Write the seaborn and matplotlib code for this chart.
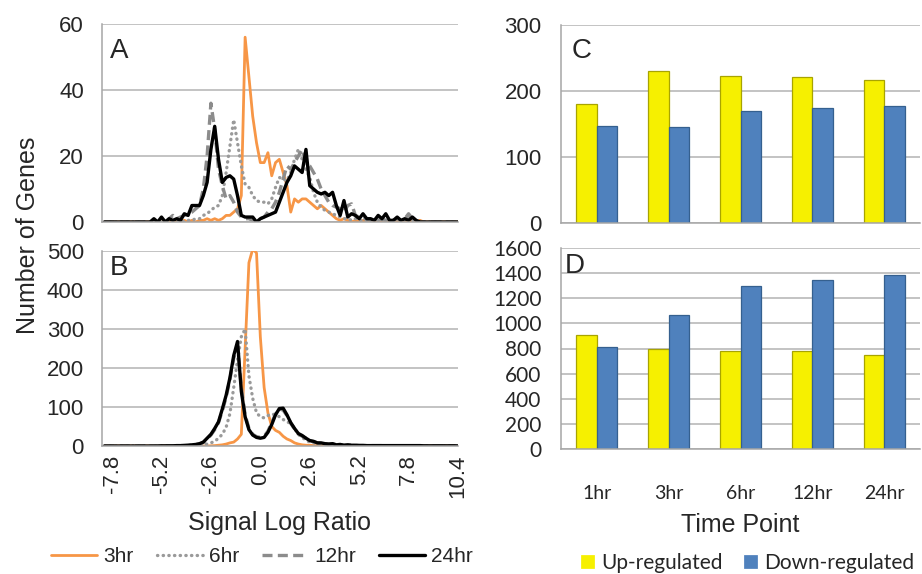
"""
Gene expression figure: signal log ratio histograms (A, B) and
up/down regulated gene counts per time point (C, D).
"""

import matplotlib
matplotlib.use('Agg')
import matplotlib.pyplot as plt
import seaborn as sns
import pandas as pd
import numpy as np

# ---- data -------------------------------------------------------------
# signal log ratio bins, step 0.2 (-8.2 ... 10.4)
LOG_RATIO = np.round(np.arange(-8.2, 10.41, 0.2), 1)
XTICKS = [-7.8, -5.2, -2.6, 0.0, 2.6, 5.2, 7.8, 10.4]
SERIES = ['3hr', '6hr', '12hr', '24hr']

# panel A (rows of ten bins: -8.2, -6.2, -4.2, -2.2, -0.2, 1.8, 3.8, 5.8, 7.8, 9.8)
A_3HR = [0, 0, 0, 0, 0, 0, 0, 0, 0, 0,
         0, 0, 0, 0, 0, 0, 0, 0, 0.5, 0,
         0, 0.5, 0, 0.5, 0, 0.5, 0.5, 1, 0.5, 1,
         0.5, 1, 2, 2, 3, 4, 8, 56, 44, 32,
         24, 18, 18, 21, 14, 18, 19, 15, 11, 3,
         7, 6, 7, 7, 6, 5, 4, 5, 4, 3,
         2, 1, 0.5, 1, 0.5, 0, 0.5, 0, 0.5, 0,
         0, 0.5, 0, 0.5, 0, 0.5, 0, 0.5, 0, 0.5,
         0, 0.5, 0, 0.5, 0, 0, 0, 0, 0, 0,
         0, 0, 0, 0]
A_6HR = [0, 0, 0, 0, 0, 0, 0, 0, 0, 0,
         0, 0, 0, 0, 0, 0, 0, 0, 0, 0,
         0.5, 0, 0.5, 0.5, 1, 1, 2, 2.5, 3.5, 4.5,
         5, 8, 15, 23, 31, 24, 17, 11.5, 10.5, 8,
         6.5, 6, 6, 5.5, 7, 10.5, 13.5, 13, 12.5, 15,
         19, 22, 19, 16, 13.5, 9, 6, 4.5, 3.5, 3,
         2.5, 2, 1.5, 1, 1, 0.5, 1, 0.5, 0.5, 0.5,
         0.5, 1, 0.5, 0.5, 1, 0.5, 0.5, 0.5, 1, 0.5,
         1.5, 0.5, 0, 0, 0, 0, 0, 0, 0, 0,
         0, 0, 0, 0]
A_12HR = [0, 0, 0, 0, 0, 0, 0, 0, 0, 0,
          0, 0, 0, 0, 0, 0, 0, 1, 2, 1,
          1.5, 2, 2.5, 3, 4, 5, 10, 20, 36, 28,
          16, 11, 7, 8, 6, 3, 1.5, 1, 1, 0.5,
          1, 1, 1.5, 3, 4, 6, 9, 13, 17, 16,
          18, 20, 22, 18, 17, 15, 13, 10, 8, 6,
          5, 4.5, 4, 3, 5, 5.5, 2, 1.5, 1, 1,
          0.5, 1, 0.5, 1, 0.5, 0.5, 0.5, 1, 0.5, 1,
          2.5, 1, 0, 0, 0, 0, 0, 0, 0, 0,
          0, 0, 0, 0]
A_24HR = [0, 0, 0, 0, 0, 0, 0, 0, 0, 0,
          0, 0, 0, 1, 0, 1.5, 0, 1, 0.5, 1,
          0.5, 2.5, 2, 5, 5, 5, 8, 12, 22, 29,
          19, 12, 13.5, 14, 13, 8, 2, 1.5, 1.5, 1.5,
          0, 1, 1.5, 2, 2.5, 3, 6, 9, 12, 14,
          17, 16, 15, 22, 11, 10, 9, 8.5, 9, 8,
          9, 5, 2, 6.5, 1.5, 2.5, 2, 1, 2.5, 1,
          1, 0.5, 2, 1, 2.5, 0.5, 0.5, 1.5, 0.5, 1,
          0.5, 1.5, 0.5, 0, 0, 0, 0, 0, 0, 0,
          0, 0, 0, 0]

# panel B
B_3HR = [0, 0, 0, 0, 0, 0, 0, 0, 0, 0,
         0, 0, 0, 0, 0, 0, 0, 0, 0, 0,
         0, 0, 0, 0, 0, 0, 0, 0, 0.5, 1,
         2, 3, 5, 8, 10, 18, 30, 250, 470, 505,
         495, 280, 150, 85, 50, 40, 35, 25, 18, 14,
         8, 5, 3, 2, 2, 1, 1, 1, 0.5, 0.5,
         0.5, 0.5, 0, 0, 0, 0, 0, 0, 0, 0,
         0, 0, 0, 0, 0, 0, 0, 0, 0, 0,
         0, 0, 0, 0, 0, 0, 0, 0, 0, 0,
         0, 0, 0, 0]
B_6HR = [0, 0, 0, 0, 0, 0, 0, 0, 0, 0,
         0, 0, 0, 0, 0, 0, 0, 0, 0, 0.5,
         0.5, 1, 1, 1.5, 2, 2.5, 3, 5, 8, 12,
         20, 30, 48, 83, 150, 220, 280, 300, 180, 122,
         85, 75, 72, 78, 82, 80, 75, 68, 62, 58,
         45, 30, 22, 15, 10, 8, 6, 5, 4, 3,
         3, 2, 2, 1.5, 1.5, 1, 1, 1, 0.5, 0.5,
         0.5, 0.5, 0.5, 0.5, 0.5, 0.5, 0.5, 0.5, 0.5, 0.5,
         0.5, 0.5, 0, 0, 0, 0, 0, 0, 0, 0,
         0, 0, 0, 0]
B_12HR = [0, 0, 0, 0, 0, 0, 0, 0, 0, 0,
          0, 0, 0, 0, 0, 0, 0, 0.5, 0.5, 0.5,
          1, 1, 1.5, 2.5, 3.5, 5, 9, 18, 28, 42,
          60, 90, 125, 170, 225, 255, 150, 80, 45, 30,
          24, 22, 25, 38, 60, 82, 95, 92, 78, 58,
          44, 31, 25, 20, 13, 11, 8, 7, 6, 5,
          5, 3, 3, 2, 2.5, 2, 1.5, 1, 1, 1,
          1, 1, 1, 1, 0.5, 0.5, 0.5, 0.5, 0.5, 0.5,
          0.5, 0.5, 0.5, 0.5, 0, 0, 0, 0, 0, 0,
          0, 0, 0, 0]
B_24HR = [0, 0, 0, 0, 0, 0, 0, 0, 0, 0,
          0, 0, 0, 0, 0, 0.5, 0.5, 0.5, 0.5, 1,
          1, 1.5, 2, 3, 4, 6, 10, 20, 30, 45,
          62, 95, 130, 175, 232, 268, 140, 75, 42, 28,
          22, 20, 22, 35, 55, 80, 96, 97, 80, 60,
          45, 32, 27, 20, 14, 12, 8, 8, 6, 5,
          6, 3, 4, 2, 3, 2, 2, 1.5, 1.5, 1,
          1, 1, 1, 1, 1, 1, 1, 1, 1, 1,
          1, 1, 1, 1, 0.5, 0.5, 0.5, 0.5, 0.5, 0.5,
          0.5, 0.5, 0.5, 0]

# panels C and D
TIME_POINTS = ['1hr', '3hr', '6hr', '12hr', '24hr']
REGULATION = ['Up-regulated', 'Down-regulated']
C_UP = [180, 230, 223, 221, 217]
C_DOWN = [147, 145, 169, 174, 178]
D_UP = [910, 796, 782, 782, 750]
D_DOWN = [809, 1066, 1300, 1347, 1382]

# ---- styling ----------------------------------------------------------
LINE_STYLE = {
    '3hr': dict(color='#F79646', lw=2.0, dashes=None),
    '6hr': dict(color='#9A9A9A', lw=2.4, dashes=(0.1, 1.6)),
    '12hr': dict(color='#8C8C8C', lw=2.4, dashes=(3.0, 1.6)),
    '24hr': dict(color='#000000', lw=2.4, dashes=None),
}
YELLOW, YELLOW_EDGE = '#F6F000', '#A8A400'
BLUE, BLUE_EDGE = '#4F81BD', '#35608F'
GRID = '#B3B3B3'
SPINE = '#A6A6A6'

sns.set_style('white')
plt.rcParams['font.family'] = ['Liberation Sans', 'DejaVu Sans']

W, H = 922, 574
fig = plt.figure(figsize=(W / 100, H / 100), dpi=100)


def px_axes(left, top, right, bottom):
    return fig.add_axes([left / W, 1 - bottom / H, (right - left) / W, (bottom - top) / H])


def style_axes(ax, ymax, ystep):
    ax.set_ylim(0, ymax)
    ax.set_yticks(np.arange(0, ymax + 1, ystep))
    ax.yaxis.grid(True, color=GRID, lw=1.1)
    ax.set_axisbelow(True)
    for side in ['top', 'right']:
        ax.spines[side].set_visible(False)
    for side in ['left', 'bottom']:
        ax.spines[side].set_color(SPINE)
        ax.spines[side].set_linewidth(1.1)
    ax.tick_params(length=0)
    ax.set_xlabel('')
    ax.set_ylabel('')


def draw_histogram(ax, series_values, ymax, ystep, letter, letter_y):
    for name, vals in zip(SERIES, series_values):
        st = LINE_STYLE[name]
        sns.lineplot(x=LOG_RATIO, y=vals, ax=ax, color=st['color'], lw=st['lw'], label=name)
        line = ax.lines[-1]
        if st['dashes'] is not None:
            line.set_dashes(st['dashes'])
            line.set_dash_capstyle('round' if name == '6hr' else 'butt')
    if ax.get_legend() is not None:
        ax.get_legend().remove()
    style_axes(ax, ymax, ystep)
    ax.set_xlim(-8.33, 10.4)
    ax.set_xticks(XTICKS)
    ax.tick_params(axis='y', labelsize=16, pad=13)
    ax.text(0.022, letter_y, letter, transform=ax.transAxes, fontsize=20, va='baseline')


def draw_bars(ax, up, down, ymax, ystep, letter, letter_x, letter_y):
    df = pd.DataFrame({
        'time': TIME_POINTS * 2,
        'count': up + down,
        'reg': [REGULATION[0]] * len(up) + [REGULATION[1]] * len(down),
    })
    sns.barplot(data=df, x='time', y='count', hue='reg', palette=[YELLOW, BLUE],
                saturation=1, width=0.57, gap=0, ax=ax, linewidth=0.9)
    for container, ec in zip(ax.containers, [YELLOW_EDGE, BLUE_EDGE]):
        for bar in container:
            bar.set_edgecolor(ec)
    style_axes(ax, ymax, ystep)
    ax.set_xlim(-0.5, 4.5)
    ax.tick_params(axis='x', labelsize=14, pad=26, labelfontfamily='Lato')
    ax.text(letter_x, letter_y, letter, transform=ax.transAxes, fontsize=20, va='baseline')


# ---- panels A and B ---------------------------------------------------
ax_a = px_axes(102, 24, 458, 222)
draw_histogram(ax_a, [A_3HR, A_6HR, A_12HR, A_24HR], 60, 20, 'A', 0.83)
ax_a.set_xticklabels([])

ax_b = px_axes(102, 251, 458, 446)
draw_histogram(ax_b, [B_3HR, B_6HR, B_12HR, B_24HR], 500, 100, 'B', 0.877)
ax_b.set_xticklabels([f'{t:.1f}' for t in XTICKS], rotation=90, fontsize=16)
ax_b.tick_params(axis='x', pad=6)

fig.text(28 / W, 1 - 235 / H, 'Number of Genes', rotation=90, fontsize=18,
         ha='center', va='center')
fig.text(280 / W, 1 - 523 / H, 'Signal Log Ratio', fontsize=18, ha='center', va='center')

line_handles, line_labels = ax_a.get_legend_handles_labels()
fig.legend(line_handles, line_labels, loc='center', bbox_to_anchor=(262 / W, 1 - 557 / H),
           ncol=4, frameon=False, fontsize=15, handlelength=2.2, handletextpad=0.3,
           columnspacing=1.1)

# ---- panels C and D ---------------------------------------------------
ax_c = px_axes(561, 25, 920, 223)
draw_bars(ax_c, C_UP, C_DOWN, 300, 100, 'C', 0.03, 0.833)
ax_c.set_xticklabels([])
ax_c.tick_params(axis='y', labelsize=16, pad=14)
bar_handles, bar_labels = ax_c.get_legend_handles_labels()
ax_c.get_legend().remove()

ax_d = px_axes(561, 248, 920, 449)
draw_bars(ax_d, D_UP, D_DOWN, 1600, 200, 'D', 0.011, 0.876)
ax_d.tick_params(axis='y', labelsize=15, pad=14, labelfontfamily='Lato')
if ax_d.get_legend() is not None:
    ax_d.get_legend().remove()

fig.text(740 / W, 1 - 525 / H, 'Time Point', fontsize=18, ha='center', va='center')
fig.legend(bar_handles, bar_labels, loc='center', bbox_to_anchor=(747 / W, 1 - 563 / H),
           ncol=2, frameon=False, prop={'family': 'Lato', 'size': 15},
           handlelength=0.7, handleheight=0.7, handletextpad=0.3, columnspacing=1.0)

fig.savefig('out.png', dpi=100)
